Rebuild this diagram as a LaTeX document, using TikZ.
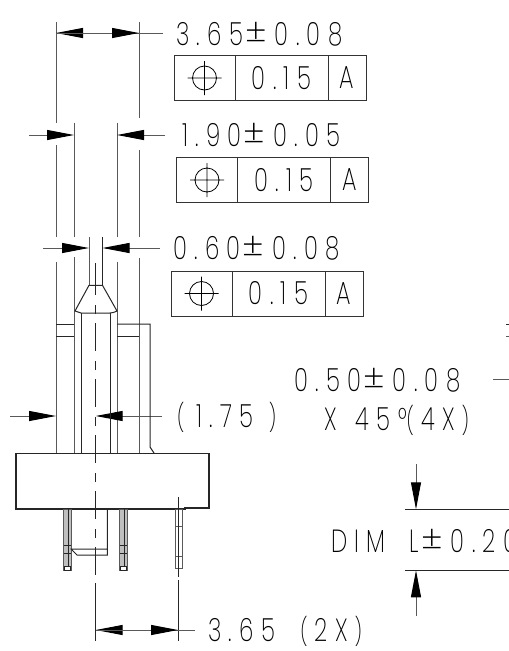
\documentclass[tikz,border=0pt]{standalone}
\usepackage{fontspec}
\usetikzlibrary{arrows.meta,positioning}
\newfontfamily\cadfont[FakeStretch=0.72,LetterSpace=23]{Poppins ExtraLight}
\newcommand{\plusmin}{\kern2pt\scalebox{1.5}[1.15]{±}\kern8pt}
\newcommand{\lpar}{{\fontsize{27}{27}\selectfont(}\kern7pt}
\newcommand{\rpar}{\kern7pt{\fontsize{27}{27}\selectfont)}}

\begin{document}
\begin{tikzpicture}[
            x=1pt, y=-1pt,
            ext/.style={draw=black!65, line width=1pt},
            part/.style={draw=black!85, line width=1pt},
            dim/.style={-{Triangle[length=27pt,width=10pt,black]}, draw=black!65, line width=1pt},
            lbl/.style={anchor=base west, inner sep=0pt, font=\cadfont\fontsize{32}{32}\selectfont},
            cell/.style={rectangle, draw=black!80, line width=0.9pt, minimum height=45pt, inner sep=0pt, outer sep=0pt, font=\cadfont\fontsize{32}{32}\selectfont}
        ]
            \useasboundingbox (0,0) rectangle (509,651);
            \clip (0,0) rectangle (509,651);

            % Extension lines
            \draw[ext] (56,22) -- (56,123) (56,145) -- (56,237) (56,262) -- (56,453);
            \draw[ext] (139,22) -- (139,118) (139,150) -- (139,237) (139,258) -- (139,453);
            \draw[ext] (74,123) -- (74,237) (74,257) -- (74,453);
            \draw[ext] (117,123) -- (117,237) (117,262) -- (117,453);
            \draw[ext] (89,237) -- (89,285);
            \draw[part] (102.5,237) -- (102.5,285);

            % Upper dimensions
            \coordinate (aL) at (56,33); \coordinate (aR) at (139,33); \coordinate (aE) at (163,33);
            \draw[dim] (aR) -- (aL);
            \draw[dim] (aL) -- (aR);
            \draw[ext] (aR) -- (aE);
            \coordinate (bS) at (29,135); \coordinate (bL) at (74,135); \coordinate (bR) at (117,135); \coordinate (bE) at (165,135);
            \draw[dim] (bS) -- (bL);
            \draw[dim] (bE) -- (bR);
            \coordinate (cS) at (43,248); \coordinate (cL) at (89,248); \coordinate (cR) at (102.5,248); \coordinate (cE) at (160,248);
            \draw[dim] (cS) -- (cL);
            \draw[dim] (cE) -- (cR);
            \coordinate (dS) at (10,416); \coordinate (dL) at (56,416); \coordinate (dR) at (95.7,416); \coordinate (dE) at (162,416);
            \draw[dim] (dS) -- (dL);
            \draw[dim] (dE) -- (dR);

            % Pin tip
            \draw[part] (89,285.3) -- (102.5,285.3) -- (117,311) to[bend left=12] (110,313) -- (81,313) to[bend left=12] (75,311) -- cycle;
            \draw[part] (81,313) -- (81,453) (110,313) -- (110,453);

            % Housing
            \draw[part] (56,324) -- (74,324) (56,336) -- (74,336);
            \draw[part] (117,324) -- (150,324) -- (150,447) -- (154,453);
            \draw[part] (117,336) -- (139,336);
            \draw[part, line width=1.1pt] (16,453.5) -- (209,453.5) -- (209,508) -- (185,508) -- (185,509) -- (16,509) -- cycle;

            % Pins
            \foreach \px in {63.5,119.5} {
                \draw[ext, fill=black!25] (\px,509) rectangle (\px+7.5,570.5);
                \draw[part, line width=1.4pt] (\px+5,509) -- (\px+5,567);
                \draw[part] (\px,545) -- (\px+7.5,545) (\px,553) -- (\px+7.5,553);
                \draw[part, fill=white] (\px+1,566) rectangle (\px+6.5,570.5);
            }
            \draw[ext] (175.5,509) rectangle (182,568) (175.5,526.7) -- (182,526.7) (175.5,556.5) -- (182,556.5);
            \draw[part] (107.3,509) -- (107.3,555) -- (77,555) -- (71,549) -- (107.3,549);

            % Centre line
            \draw[part, dash pattern=on 28pt off 10pt on 9pt off 9pt] (95.7,267) -- (95.7,577);
            \draw[part] (95.7,263) -- (95.7,267);
            \draw[part] (95.7,583) -- (95.7,641);
            \draw[part] (178,497) -- (178,577) (178,580) -- (178,641);

            % Lower dimensions
            \coordinate (eL) at (95.7,630); \coordinate (eR) at (178,630); \coordinate (eE) at (195,630);
            \draw[dim] (eR) -- (eL);
            \draw[dim] (eL) -- (eR);
            \draw[ext] (eR) -- (eE);
            \coordinate (fT) at (416,464); \coordinate (fA) at (416,509.3); \coordinate (fB) at (416,570.3); \coordinate (fE) at (416,615.5);
            \draw[dim] (fT) -- (fA);
            \draw[dim] (fE) -- (fB);
            \draw[part] (405,509.3) -- (509,509.3) (405,570.3) -- (509,570.3);
            \draw[ext] (493,379) -- (509,379);
            \draw[part] (506,324) -- (509,324);
            \draw[ext] (506,336) -- (509,336);

            % Labels
            \node[lbl] (la) at (176,45) {3.65\plusmin0.08};
            \node[lbl] (lb) at (182,146) {1.90\plusmin0.05};
            \node[lbl] (lc) at (173,259) {0.60\plusmin0.08};
            \node[lbl] (ld) at (294,391) {0.50\plusmin0.08};
            \node[lbl] (le) at (177,427) {\lpar\kern5pt 1.75\kern8pt\rpar};
            \node[lbl] (lf) at (324,430) {X\kern19pt 45°\lpar 4X\rpar};
            \node[lbl] (lg) at (208,641) {3.65\kern25pt\lpar 2X\rpar};
            \node[lbl] (lh) at (331,552) {DIM\kern24pt L\plusmin0.20};

            % Frames
            \foreach \nm/\fx/\fy in {fa/174/78, fb/176.5/180, fc/171/293.5} {
                \node[cell, minimum width=61pt, anchor=west] (\nm sym) at (\fx,\fy) {};
                \node[cell, minimum width=93pt, right=0pt of \nm sym] (\nm tol) {0.15};
                \node[cell, minimum width=38pt, right=0pt of \nm tol] (\nm dat) {A};
                \draw[draw=black, line width=0.8pt] (\nm sym.center) circle[radius=12pt]
                    ([xshift=-17pt]\nm sym.center) -- ([xshift=17pt]\nm sym.center)
                    ([yshift=-17pt]\nm sym.center) -- ([yshift=17pt]\nm sym.center);
            }
        \end{tikzpicture}
\end{document}
